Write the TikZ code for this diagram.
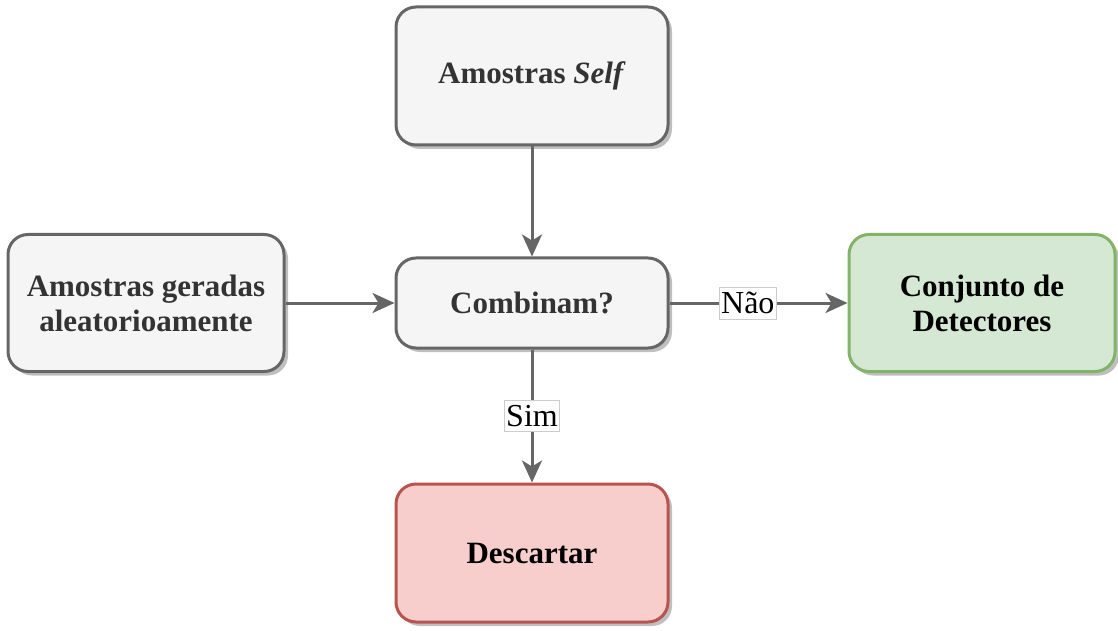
\documentclass[tikz,border=0pt]{standalone}
\usepackage{fontspec}
\setmainfont{Liberation Serif}
\usetikzlibrary{arrows.meta,shadows}
\definecolor{grayfill}{HTML}{F5F5F5}
\definecolor{graystroke}{HTML}{666666}
\definecolor{greenfill}{HTML}{D5E8D4}
\definecolor{greenstroke}{HTML}{82B366}
\definecolor{redfill}{HTML}{F8CECC}
\definecolor{redstroke}{HTML}{B85450}
\definecolor{textgray}{HTML}{333333}
\tikzset{
  box/.style={rectangle, rounded corners=20pt, line width=3pt, align=center,
    font=\fontsize{31}{35}\selectfont\bfseries,
    drop shadow={shadow xshift=4pt, shadow yshift=-4pt, fill=black, opacity=0.25}},
  graybox/.style={box, draw=graystroke, fill=grayfill, text=textgray},
  greenbox/.style={box, draw=greenstroke, fill=greenfill, text=black},
  redbox/.style={box, draw=redstroke, fill=redfill, text=black},
  flow/.style={draw=graystroke, line width=3pt,
    -{Stealth[length=22pt, width=20pt, inset=6pt]}},
  edgelabel/.style={fill=white, draw=black!20, line width=0.8pt,
    inner xsep=2pt, inner ysep=5pt, font=\fontsize{32}{36}\selectfont, text=black}
}
\begin{document}
\begin{tikzpicture}[x=1pt, y=1pt]
  \useasboundingbox (0,0) rectangle (1118,630);
  \node[graybox, minimum width=272pt, minimum height=138pt] (self) at (532,554) {Amostras \textit{Self}};
  \node[graybox, minimum width=276pt, minimum height=137pt] (random) at (146,327) {Amostras geradas\\aleatorioamente};
  \node[graybox, minimum width=272pt, minimum height=90pt] (match) at (532,327) {Combinam?};
  \node[greenbox, minimum width=266pt, minimum height=137pt] (detectors) at (982,327) {Conjunto de\\Detectores};
  \node[redbox, minimum width=272pt, minimum height=138pt] (discard) at (532,77) {Descartar};

  \draw[flow] (self) -- (match);
  \draw[flow] (random) -- (match);
  \draw[flow] (match) -- node[edgelabel, pos=0.44] (no) {Não} (detectors);
  \draw[flow] (match) -- node[edgelabel, pos=0.5] (yes) {Sim} (discard);
\end{tikzpicture}
\end{document}
